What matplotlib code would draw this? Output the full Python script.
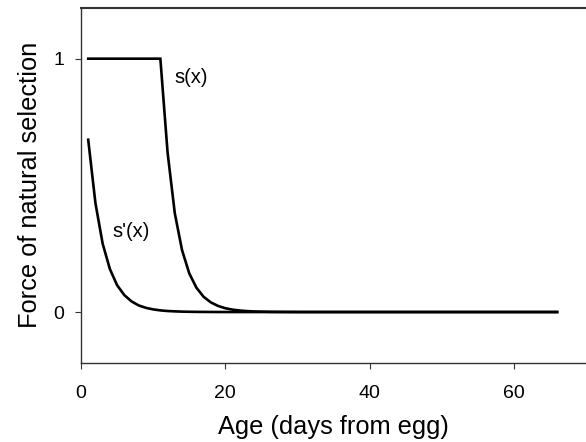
import matplotlib
matplotlib.use("Agg")
import matplotlib.pyplot as plt

plt.rcParams['font.family'] = ['Liberation Sans', 'DejaVu Sans']

age = list(range(1, 67))
s_x = [1.0, 1.0, 1.0, 1.0, 1.0, 1.0, 1.0, 1.0, 1.0, 1.0,
       1.0, 0.63, 0.39, 0.245, 0.153, 0.096, 0.060, 0.038, 0.024, 0.015,
       0.0094, 0.0059, 0.0037, 0.0023, 0.0015, 0.0009, 0.0006, 0.0004, 0.0002, 0.0001,
       0.0, 0.0, 0.0, 0.0, 0.0, 0.0, 0.0, 0.0, 0.0, 0.0,
       0.0, 0.0, 0.0, 0.0, 0.0, 0.0, 0.0, 0.0, 0.0, 0.0,
       0.0, 0.0, 0.0, 0.0, 0.0, 0.0, 0.0, 0.0, 0.0, 0.0,
       0.0, 0.0, 0.0, 0.0, 0.0, 0.0]
s_prime = [0.68, 0.43, 0.27, 0.17, 0.106, 0.067, 0.042, 0.026, 0.0165, 0.0104,
           0.0065, 0.0040, 0.0026, 0.0016, 0.0010, 0.0006, 0.0004, 0.0002, 0.0001, 0.0,
           0.0, 0.0, 0.0, 0.0, 0.0, 0.0, 0.0, 0.0, 0.0, 0.0,
           0.0, 0.0, 0.0, 0.0, 0.0, 0.0, 0.0, 0.0, 0.0, 0.0,
           0.0, 0.0, 0.0, 0.0, 0.0, 0.0, 0.0, 0.0, 0.0, 0.0,
           0.0, 0.0, 0.0, 0.0, 0.0, 0.0, 0.0, 0.0, 0.0, 0.0,
           0.0, 0.0, 0.0, 0.0, 0.0, 0.0]
xticks = [0, 20, 40, 60]
yticks = [0, 1]

fig = plt.figure(figsize=(5.86, 4.42), dpi=100)
ax = fig.add_axes([81/586, (442-362.7)/442, 1 - 81/586, (362.7-8)/442])

ax.plot(age, s_x, color='black', lw=1.9, solid_joinstyle='miter')
ax.plot(age, s_prime, color='black', lw=1.9)

ax.text(13.0, 0.926, "s(x)", fontsize=14.5, va='center', ha='left')
ax.text(4.4, 0.318, "s'(x)", fontsize=14.5, va='center', ha='left')

ax.set_xlim(0, 70)
ax.set_ylim(-0.2, 1.2)
ax.set_xticks(xticks)
ax.set_yticks(yticks)
ax.tick_params(axis='both', direction='out', length=4, width=0.8,
               labelsize=14, color='#333333')
ax.tick_params(axis='x', pad=12)
ax.tick_params(axis='y', pad=8)

for side in ['left', 'bottom', 'top']:
    ax.spines[side].set_color('#333333')
    ax.spines[side].set_linewidth(1.0)
ax.spines['top'].set_linewidth(1.5)
ax.spines['right'].set_visible(False)

ax.set_xlabel("Age (days from egg)", fontsize=18.3)
ax.set_ylabel("Force of natural selection", fontsize=18.3)
ax.xaxis.set_label_coords(0.5, -0.147)
ax.yaxis.set_label_coords(-0.077, 0.5)

fig.savefig("out.png", dpi=100)
